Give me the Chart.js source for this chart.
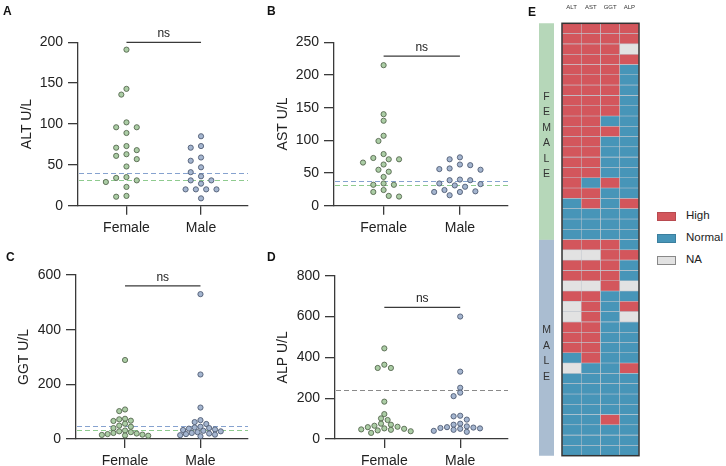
<!DOCTYPE html>
<html>
<head>
<meta charset="utf-8">
<script src="https://cdn.jsdelivr.net/npm/chart.js@4.4.1/dist/chart.umd.min.js"></script>
<style>
  body { margin: 0; background: #fff; width: 726px; height: 466px; position: relative; overflow: hidden;
         font-family: "Liberation Sans", Arial, sans-serif; color: #222; }
  canvas { position: absolute; }
  .tag { position: absolute; font-weight: bold; font-size: 12px; line-height: 12px; color: #111; }
  .leg { position: absolute; left: 657px; height: 9px; font-size: 11.5px; color: #222; }
  .leg span { position: absolute; left: 0; top: 0; width: 17px; height: 7px; border: 1px solid #888; }
  .leg b { position: absolute; left: 29px; top: -3px; font-weight: normal; white-space: nowrap; }
</style>
</head>
<body>
<canvas id="pA" width="255" height="240" style="left:0;top:0"></canvas>
<canvas id="pB" width="255" height="240" style="left:260px;top:0"></canvas>
<canvas id="pC" width="255" height="226" style="left:0;top:240px"></canvas>
<canvas id="pD" width="255" height="226" style="left:260px;top:240px"></canvas>
<canvas id="band" width="25" height="466" style="left:535px;top:0"></canvas>
<canvas id="heat" width="95" height="466" style="left:555px;top:0"></canvas>

<div class="tag" style="left:3px;top:5px">A</div>
<div class="tag" style="left:267px;top:5px">B</div>
<div class="tag" style="left:6px;top:251px">C</div>
<div class="tag" style="left:267px;top:251px">D</div>
<div class="tag" style="left:528px;top:6px">E</div>

<div class="leg" style="top:212px"><span style="background:#d3565c;border-color:#b84a50"></span><b>High</b></div>
<div class="leg" style="top:234px"><span style="background:#4795b8;border-color:#3b7f9e"></span><b>Normal</b></div>
<div class="leg" style="top:256px"><span style="background:#e2e2e2"></span><b>NA</b></div>

<script>
Chart.defaults.font.family = '"Liberation Sans", Arial, sans-serif';
Chart.defaults.color = '#222';

// groups and values (U/L)
const groups = ['Female', 'Male'];

const altFemale = [191, 143, 136, 102, 96, 96, 89, 73, 71, 68, 63, 61, 57, 48, 35, 34, 31, 29, 23, 12, 11];
const altMale = [85, 73, 71, 59, 55, 47, 41, 36, 31, 31, 27, 20, 20, 20, 20, 9];

const astFemale = [215, 140, 130, 107, 99, 79, 73, 71, 71, 66, 63, 55, 52, 44, 34, 32, 32, 24, 21, 15, 14];
const astMale = [74, 71, 63, 62, 57, 56, 55, 40, 39, 39, 34, 33, 31, 29, 24, 22, 21, 21, 16];

const ggtFemale = [289, 108, 102, 74, 72, 67, 66, 56, 49, 45, 40, 31, 28, 25, 22, 20, 18, 16, 15, 13, 12];
const ggtMale = [530, 236, 115, 69, 62, 55, 45, 42, 40, 38, 35, 33, 30, 28, 25, 22, 20, 18, 16, 14, 10];

const alpFemale = [444, 364, 348, 348, 183, 122, 101, 93, 75, 70, 65, 60, 58, 52, 50, 47, 45, 42, 38, 30];
const alpMale = [600, 330, 251, 227, 210, 114, 111, 95, 75, 70, 62, 58, 56, 54, 52, 50, 45, 40, 35];

// upper reference limits
const refFemale = [31, 31, 33];
const refMale = [40, 38, 49];
const refAlp = 240;

// heatmap: one string per patient, columns ALT AST GGT ALP; H high, N normal, X not available
const markers = ['ALT', 'AST', 'GGT', 'ALP'];
const femaleRows = ['HHHH', 'HHHH', 'HHHX', 'HHHH', 'HHHN', 'HHHN', 'HHHN', 'HHHN', 'HHHN', 'HHNN', 'HHHN',
  'HHNN', 'HHNN', 'HHNN', 'HHNN', 'HNHN', 'HHNN', 'NHNH', 'NNNN', 'NNNN', 'NNNN'];
const maleRows = ['HHHN', 'XXHH', 'HHHN', 'HHHN', 'XXHX', 'HHNN', 'XHNH', 'XHNX', 'HHNN', 'HHNN', 'HHNN',
  'NHNN', 'XNNH', 'NNNN', 'NNNN', 'NNNN', 'NNNN', 'NNHN', 'NNNN', 'NNNN', 'NNNN'];

const statusColor = { H: '#d3565c', N: '#4795b8', X: '#e2e2e2' };
const axisColor = '#3a3a3a';

// dashed reference lines, drawn behind the dots
const refLines = {
  id: 'refLines',
  beforeDatasetsDraw(chart, args, opts) {
    const { ctx, chartArea: a, scales: { y } } = chart;
    ctx.save();
    ctx.setLineDash([5, 3]);
    ctx.lineWidth = 1.2;
    (opts.lines || []).forEach(l => {
      const py = Math.round(y.getPixelForValue(l.value)) + 0.5;
      ctx.strokeStyle = l.color;
      ctx.beginPath();
      ctx.moveTo(a.left + 1, py);
      ctx.lineTo(a.right, py);
      ctx.stroke();
    });
    ctx.restore();
  }
};

// "ns" bracket between the two groups
const bracket = {
  id: 'bracket',
  afterDraw(chart, args, opts) {
    const { ctx, scales: { x, y } } = chart;
    const py = y.getPixelForValue(opts.value);
    ctx.save();
    ctx.strokeStyle = axisColor;
    ctx.lineWidth = 1.3;
    ctx.beginPath();
    ctx.moveTo(x.getPixelForValue(1), py);
    ctx.lineTo(x.getPixelForValue(2), py);
    ctx.stroke();
    ctx.fillStyle = '#222';
    ctx.font = '12px "Liberation Sans", Arial, sans-serif';
    ctx.textAlign = 'center';
    ctx.fillText('ns', (x.getPixelForValue(1) + x.getPixelForValue(2)) / 2, py - 5);
    ctx.restore();
  }
};

// spread the dots sideways so they do not overlap (column dot plot)
function swarm(chart, colW, rowH) {
  const xs = chart.scales.x, ys = chart.scales.y;
  const unit = xs.getPixelForValue(2) - xs.getPixelForValue(1);
  chart.data.datasets.forEach((ds, i) => {
    const placed = [];
    const order = ds.data.map((p, k) => k).sort((a, b) => ds.data[b].y - ds.data[a].y);
    order.forEach(k => {
      const py = ys.getPixelForValue(ds.data[k].y);
      let off = 0;
      for (let s = 0; s < 60; s++) {
        const cand = s === 0 ? 0 : (s % 2 ? -1 : 1) * Math.ceil(s / 2) * colW / 2;
        if (placed.every(q => ((cand - q.dx) / colW) ** 2 + ((py - q.py) / rowH) ** 2 >= 0.999)) { off = cand; break; }
      }
      placed.push({ dx: off, py });
      ds.data[k].x = i + 1 + off / unit;
    });
  });
  chart.update('none');
}

function dotPanel(id, females, males, o) {
  const chart = new Chart(document.getElementById(id), {
    type: 'scatter',
    data: {
      datasets: [
        { data: females.map(v => ({ x: 1, y: v })), backgroundColor: '#abcda5', borderColor: '#56684f' },
        { data: males.map(v => ({ x: 2, y: v })), backgroundColor: '#a4b5cf', borderColor: '#505c74' }
      ]
    },
    options: {
      responsive: false,
      animation: false,
      clip: false,
      layout: { padding: { left: 0, top: o.top, right: 7, bottom: 0 } },
      elements: { point: { radius: 2.6, borderWidth: 0.9 } },
      plugins: {
        legend: { display: false },
        tooltip: { enabled: false },
        refLines: { lines: o.lines },
        bracket: { value: o.bracket }
      },
      scales: {
        x: {
          type: 'linear', min: 0.35, max: 2.63,
          afterBuildTicks: s => { s.ticks = [{ value: 1 }, { value: 2 }]; },
          afterFit: s => { s.height = o.xh; },
          ticks: { callback: v => groups[v - 1], font: { size: 14 }, padding: 5, maxRotation: 0 },
          grid: { drawOnChartArea: false, tickLength: 9, color: axisColor, lineWidth: 1.3 },
          border: { color: axisColor, width: 1.3 }
        },
        y: {
          min: 0, max: o.max,
          afterFit: s => { s.width = o.yw; },
          ticks: { stepSize: o.step, font: { size: 14 }, padding: 5 },
          grid: { drawOnChartArea: false, tickLength: 10, color: axisColor, lineWidth: 1.3 },
          border: { color: axisColor, width: 1.3 },
          title: { display: true, text: o.title, font: { size: 14 }, padding: { top: o.tx - 8.4, bottom: 0 } }
        }
      }
    },
    plugins: [refLines, bracket]
  });
  swarm(chart, o.colW, o.rowH);
}

const blueRef = '#86a2cf', greenRef = '#8fcb8f', greyRef = '#8a8a8a';

dotPanel('pA', altFemale, altMale, {
  title: 'ALT U/L', max: 200, step: 50, top: 42.3, yw: 78, xh: 34.3, tx: 26.7, bracket: 200, colW: 10.3, rowH: 6,
  lines: [{ value: refMale[0], color: blueRef }, { value: refFemale[0], color: greenRef }]
});
dotPanel('pB', astFemale, astMale, {
  title: 'AST U/L', max: 250, step: 50, top: 42.3, yw: 74, xh: 34.3, tx: 23, bracket: 229, colW: 10.3, rowH: 6,
  lines: [{ value: refMale[1], color: blueRef }, { value: refFemale[1], color: greenRef }]
});
dotPanel('pC', ggtFemale, ggtMale, {
  title: 'GGT U/L', max: 600, step: 200, top: 35, yw: 76, xh: 27, tx: 24, bracket: 560, colW: 5.8, rowH: 4.6,
  lines: [{ value: refMale[2], color: blueRef }, { value: refFemale[2], color: greenRef }]
});
dotPanel('pD', alpFemale, alpMale, {
  title: 'ALP U/L', max: 800, step: 200, top: 35.7, yw: 75, xh: 27, tx: 23.3, bracket: 645, colW: 6.6, rowH: 4.8,
  lines: [{ value: refAlp, color: greyRef }]
});

// heatmap E: one stacked bar segment per patient and marker
const allRows = femaleRows.concat(maleRows);
new Chart(document.getElementById('heat'), {
  type: 'bar',
  data: {
    labels: markers,
    datasets: allRows.map(r => ({
      data: markers.map(() => 1),
      backgroundColor: r.split('').map(c => statusColor[c]),
      borderColor: 'rgba(190,196,204,0.9)',
      borderWidth: 0.6,
      borderSkipped: false,
      categoryPercentage: 1,
      barPercentage: 1
    }))
  },
  options: {
    responsive: false,
    animation: false,
    layout: { padding: { left: 7, right: 11, top: 0, bottom: 10.3 } },
    plugins: { legend: { display: false }, tooltip: { enabled: false } },
    scales: {
      x: {
        stacked: true, position: 'top',
        afterFit: s => { s.height = 23.3; },
        grid: { display: false }, border: { display: false },
        ticks: { font: { size: 6 }, color: '#333', padding: 4, maxRotation: 0 }
      },
      y: { stacked: true, min: 0, max: allRows.length, reverse: true, display: false }
    }
  },
  plugins: [{
    id: 'frame',
    afterDatasetsDraw(chart) {
      const { ctx, chartArea: a } = chart;
      ctx.save();
      ctx.strokeStyle = '#333';
      ctx.lineWidth = 1.5;
      ctx.strokeRect(a.left, a.top, a.right - a.left, a.bottom - a.top);
      ctx.restore();
    }
  }]
});

// sex band beside the heatmap
new Chart(document.getElementById('band'), {
  type: 'bar',
  data: {
    labels: [''],
    datasets: [
      { label: 'FEMALE', data: [femaleRows.length], backgroundColor: '#b6d7b9' },
      { label: 'MALE', data: [maleRows.length], backgroundColor: '#aabdd1' }
    ]
  },
  options: {
    responsive: false,
    animation: false,
    datasets: { bar: { categoryPercentage: 1, barPercentage: 1 } },
    layout: { padding: { left: 4, right: 6, top: 23.3, bottom: 10.3 } },
    plugins: { legend: { display: false }, tooltip: { enabled: false } },
    scales: {
      x: { stacked: true, display: false },
      y: { stacked: true, min: 0, max: allRows.length, reverse: true, display: false }
    }
  },
  plugins: [{
    id: 'letters',
    afterDatasetsDraw(chart) {
      const { ctx } = chart;
      ctx.save();
      ctx.fillStyle = '#333';
      ctx.font = '10.5px "Liberation Sans", Arial, sans-serif';
      ctx.textAlign = 'center';
      ctx.textBaseline = 'middle';
      chart.data.datasets.forEach((ds, i) => {
        const bar = chart.getDatasetMeta(i).data[0];
        const mid = (bar.y + bar.base) / 2 + (i ? 6 : 4);
        const letters = ds.label.split('');
        letters.forEach((ch, k) => {
          ctx.fillText(ch, bar.x, mid + (k - (letters.length - 1) / 2) * 15.5);
        });
      });
      ctx.restore();
    }
  }]
});
</script>
</body>
</html>
